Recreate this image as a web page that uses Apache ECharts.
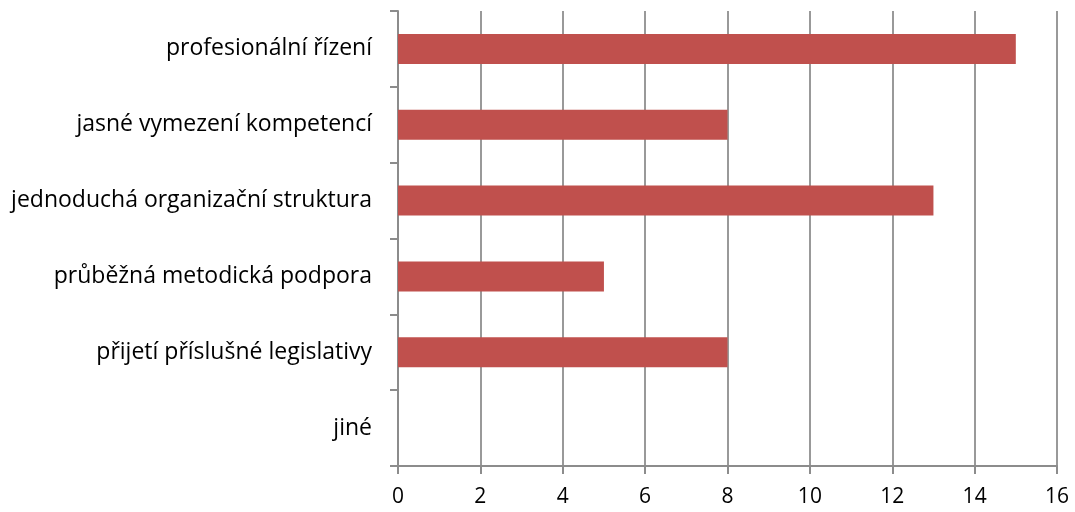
<!DOCTYPE html>
<html><head><meta charset="utf-8">
<script src="https://cdn.jsdelivr.net/npm/echarts@6/dist/echarts.min.js"></script>
<style>html,body{margin:0;padding:0;background:#fff}#c{width:1075px;height:512px}</style>
</head><body><div id="c"></div>
<script>
const categories = ["jiné","přijetí příslušné legislativy","průběžná metodická podpora","jednoduchá organizační struktura","jasné vymezení kompetencí","profesionální řízení"];
const values = [0, 8, 5, 13, 8, 15];
const xTicks = {min: 0, max: 16, interval: 2};

const chart = echarts.init(document.getElementById('c'));
const font = "'Open Sans', sans-serif";
chart.setOption({
  animation: false,
  grid: {left: 398, right: 18, top: 11, bottom: 46, containLabel: false},
  xAxis: {
    type: 'value', min: xTicks.min, max: xTicks.max, interval: xTicks.interval,
    axisLine: {show: true, lineStyle: {color: '#8c8c8c', width: 2}},
    axisTick: {show: true, length: 8, lineStyle: {color: '#8c8c8c', width: 2}},
    splitLine: {show: true, lineStyle: {color: '#999999', width: 2}},
    axisLabel: {color: '#000', fontSize: 21, fontFamily: font, margin: 21}
  },
  yAxis: {
    type: 'category', data: categories,
    axisLine: {show: true, lineStyle: {color: '#8c8c8c', width: 2}},
    axisTick: {show: true, length: 8, lineStyle: {color: '#8c8c8c', width: 2}},
    axisLabel: {color: '#000', fontSize: 23, fontFamily: font, margin: 26}
  },
  series: [{
    type: 'bar', data: values, barWidth: 30,
    itemStyle: {color: '#c0504d', borderWidth: 0},
    silent: true
  }]
});
</script></body></html>
